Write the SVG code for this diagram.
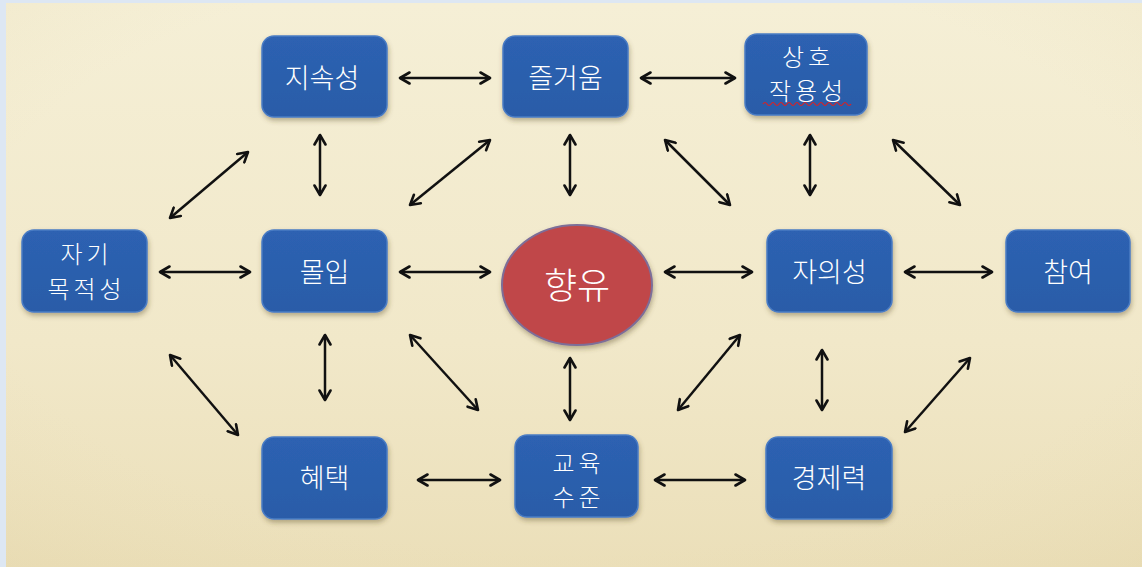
<svg xmlns="http://www.w3.org/2000/svg" width="1142" height="567" viewBox="0 0 1142 567">
<style>
.box{fill:url(#blueGrad);stroke:#4a7cc4;stroke-width:1.5;filter:url(#shadow)}
.t{font-family:"Noto Sans CJK KR","Noto Sans",sans-serif;font-weight:300;font-size:27px;fill:#ffffff;text-anchor:middle;dominant-baseline:central}
.two{font-size:24px;letter-spacing:4px}
.big{font-size:36px}
.c line{stroke:#111;stroke-width:2.5;marker-start:url(#ah);marker-end:url(#ah)}
</style>
<defs>
<linearGradient id="bg" x1="0" y1="0" x2="0" y2="1">
<stop offset="0" stop-color="#f5efd6"/>
<stop offset="0.6" stop-color="#f1e8c9"/>
<stop offset="1" stop-color="#ebdfb9"/>
</linearGradient>
<radialGradient id="vig" cx="0.5" cy="0.45" r="0.75">
<stop offset="0.7" stop-color="#e2d3a0" stop-opacity="0"/>
<stop offset="1" stop-color="#d8c690" stop-opacity="0.15"/>
</radialGradient>
<linearGradient id="blueGrad" x1="0" y1="0" x2="0" y2="1">
<stop offset="0" stop-color="#2d62b2"/>
<stop offset="1" stop-color="#2a5ca8"/>
</linearGradient>
<filter id="shadow" x="-20%" y="-20%" width="140%" height="150%">
<feDropShadow dx="1" dy="3" stdDeviation="2.5" flood-color="#5a4a20" flood-opacity="0.4"/>
</filter>
<marker id="ah" viewBox="0 0 14 14" refX="12" refY="7" markerWidth="14" markerHeight="14" markerUnits="userSpaceOnUse" orient="auto-start-reverse">
<path d="M2.5,1.5 L12,7 L2.5,12.5" fill="none" stroke="#111" stroke-width="2.6" stroke-linecap="round" stroke-linejoin="round"/>
</marker>
</defs>
<rect x="0" y="0" width="1142" height="567" fill="#dde7f3"/>
<rect x="6" y="3" width="1136" height="564" fill="url(#bg)"/>
<rect x="6" y="3" width="1136" height="564" fill="url(#vig)"/>

<g class="c" id="connectors">
<line x1="400" y1="78" x2="490" y2="78"/>
<line x1="641" y1="78" x2="735" y2="78"/>
<line x1="320" y1="135" x2="320" y2="195"/>
<line x1="570" y1="135" x2="570" y2="195"/>
<line x1="810" y1="135" x2="810" y2="195"/>
<line x1="170" y1="218" x2="248" y2="152"/>
<line x1="410" y1="205" x2="490" y2="140"/>
<line x1="665" y1="140" x2="730" y2="205"/>
<line x1="893" y1="140" x2="960" y2="205"/>
<line x1="160" y1="272" x2="250" y2="272"/>
<line x1="400" y1="272" x2="490" y2="272"/>
<line x1="665" y1="272" x2="752" y2="272"/>
<line x1="905" y1="272" x2="992" y2="272"/>
<line x1="170" y1="355" x2="238" y2="435"/>
<line x1="325" y1="335" x2="325" y2="400"/>
<line x1="410" y1="335" x2="478" y2="410"/>
<line x1="570" y1="358" x2="570" y2="420"/>
<line x1="740" y1="335" x2="678" y2="410"/>
<line x1="822" y1="350" x2="822" y2="410"/>
<line x1="970" y1="358" x2="905" y2="432"/>
<line x1="418" y1="480" x2="500" y2="480"/>
<line x1="655" y1="480" x2="745" y2="480"/>
</g>

<g id="n-jisok"><rect class="box" x="262" y="36" width="125" height="81" rx="12"/><text class="t" x="322" y="76">지속성</text></g>
<g id="n-jeulgeoum"><rect class="box" x="503" y="36" width="125" height="81" rx="12"/><text class="t" x="565.5" y="76">즐거움</text></g>
<g id="n-sangho"><rect class="box" x="745" y="34" width="122" height="81" rx="12"/><text class="t two" x="808" y="55">상호</text><text class="t two" x="808" y="89">작용성</text>
<path d="M763,104 q2,-3 4,0 t4,0 t4,0 t4,0 t4,0 t4,0 t4,0 t4,0 t4,0 t4,0 t4,0 t4,0 t4,0 t4,0 t4,0 t4,0 t4,0 t4,0 t4,0 t4,0 t4,0 t4,0" fill="none" stroke="#e02020" stroke-width="1.2"/></g>
<g id="n-jagi"><rect class="box" x="22" y="230" width="125" height="82" rx="12"/><text class="t two" x="86.5" y="252">자기</text><text class="t two" x="86.5" y="287">목적성</text></g>
<g id="n-morip"><rect class="box" x="262" y="230" width="125" height="82" rx="12"/><text class="t" x="324.5" y="270">몰입</text></g>
<g id="n-hyangyu"><ellipse cx="577" cy="285" rx="75" ry="60" fill="#c0474a" stroke="#7d6e98" stroke-width="2" filter="url(#shadow)"/><text class="t big" x="577" y="283">향유</text></g>
<g id="n-jaui"><rect class="box" x="767" y="230" width="125" height="82" rx="12"/><text class="t" x="829.5" y="270">자의성</text></g>
<g id="n-chamyeo"><rect class="box" x="1006" y="230" width="124" height="82" rx="12"/><text class="t" x="1068" y="270">참여</text></g>
<g id="n-hyetaek"><rect class="box" x="262" y="437" width="125" height="82" rx="12"/><text class="t" x="324.5" y="476">혜택</text></g>
<g id="n-gyoyuk"><rect class="box" x="515" y="435" width="123" height="82" rx="12"/><text class="t two" x="578.5" y="461">교육</text><text class="t two" x="578.5" y="495">수준</text></g>
<g id="n-gyeongje"><rect class="box" x="766" y="437" width="126" height="82" rx="12"/><text class="t" x="829" y="476">경제력</text></g>
</svg>
